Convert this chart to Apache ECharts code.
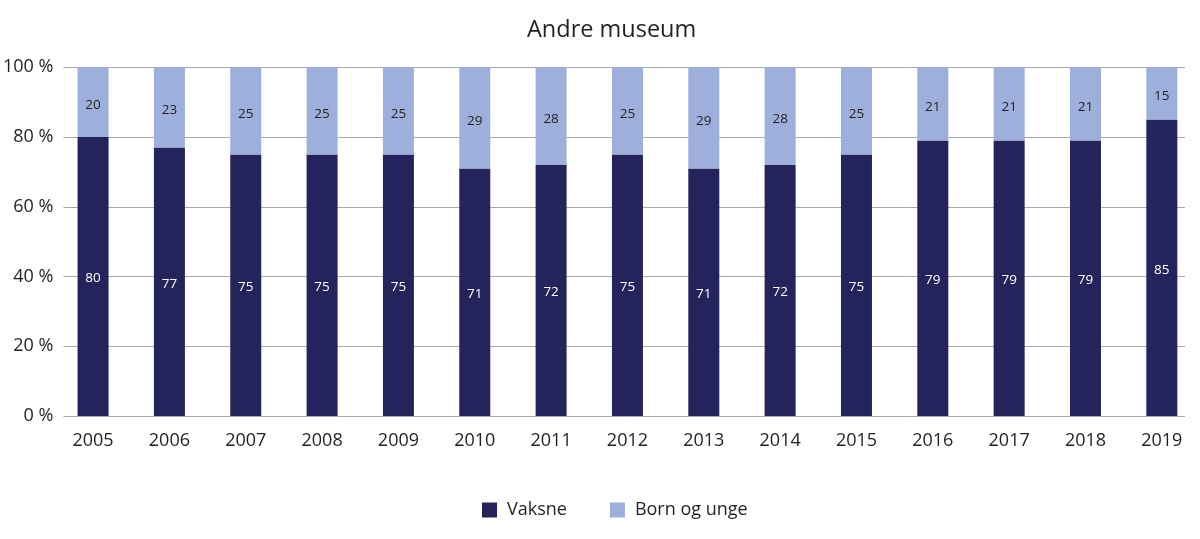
<!DOCTYPE html>
<html>
<head>
<meta charset="utf-8">
<script src="https://cdn.jsdelivr.net/npm/echarts@6/dist/echarts.min.js"></script>
<style>html,body{margin:0;padding:0;background:#fff}#c{width:1200px;height:539px}</style>
</head>
<body>
<div id="c"></div>
<script>
var categories = ['2005','2006','2007','2008','2009','2010','2011','2012','2013','2014','2015','2016','2017','2018','2019'];
var vaksne = [80,77,75,75,75,71,72,75,71,72,75,79,79,79,85];
var bornOgUnge = [20,23,25,25,25,29,28,25,29,28,25,21,21,21,15];
var yTicks = [0,20,40,60,80,100];

var FONT = '"Open Sans", sans-serif';
var TXT = '#231f20';
var chart = echarts.init(document.getElementById('c'), null, {renderer:'canvas'});
var top_ = 67.3, h = 348.7;
chart.setOption({
  animation:false,
  title:{text:'Andre museum', left:522, top:13, textStyle:{fontFamily:FONT, fontSize:23.5, fontWeight:'normal', color:TXT}},
  legend:{bottom:15, left:477, itemWidth:15, itemHeight:15, itemGap:43, icon:'rect',
    textStyle:{fontFamily:FONT, fontSize:18, color:TXT, padding:[0,0,0,5]}, data:['Vaksne','Born og unge']},
  grid:[
    {left:54.9, width:1152.6, top:top_, height:h},
    {left:62, width:1123, top:top_, height:h}
  ],
  xAxis:[
    {type:'category', gridIndex:0, data:categories, boundaryGap:true,
     axisLine:{show:false}, axisTick:{show:false},
     axisLabel:{fontFamily:FONT, fontSize:18, color:TXT, margin:16}},
    {type:'value', gridIndex:1, min:0, max:1, show:false}
  ],
  yAxis:[
    {type:'value', gridIndex:0, min:0, max:100, interval:20, show:false},
    {type:'value', gridIndex:1, min:0, max:100, interval:20,
     axisLine:{show:false}, axisTick:{show:false},
     splitLine:{show:true, lineStyle:{color:'#a7a9ac', width:1}},
     axisLabel:{fontFamily:FONT, fontSize:18, color:TXT, margin:10,
       formatter:function(v){return yTicks.indexOf(v)>=0 ? v+' %' : '';}}}
  ],
  series:[
    {name:'Vaksne', type:'bar', stack:'a', xAxisIndex:0, yAxisIndex:0, data:vaksne, barWidth:31,
     itemStyle:{color:'#25235b'},
     label:{show:true, position:'inside', offset:[0,2], color:'#ffffff', fontFamily:FONT, fontSize:13.5}},
    {name:'Born og unge', type:'bar', stack:'a', xAxisIndex:0, yAxisIndex:0, data:bornOgUnge, barWidth:31,
     itemStyle:{color:'#9eafdb'},
     label:{show:true, position:'inside', offset:[0,3], color:TXT, fontFamily:FONT, fontSize:13.5}}
  ]
});
</script>
</body>
</html>
